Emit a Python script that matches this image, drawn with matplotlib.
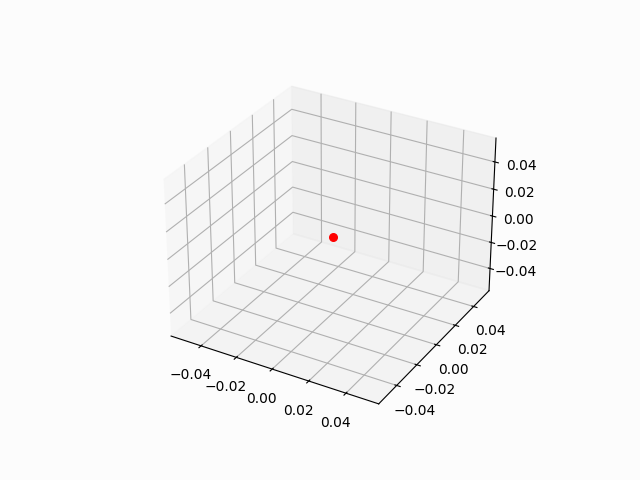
import matplotlib
matplotlib.use("Agg")
import matplotlib.pyplot as plt

xs = [0.0]
ys = [0.0]
zs = [0.0]

fig = plt.figure(figsize=(6.4, 4.8), dpi=100, facecolor="#fcfcfc")
ax = fig.add_subplot(111, projection="3d")
ax.set_facecolor("#fcfcfc")
ax.scatter(xs, ys, zs, c="red", s=30, depthshade=False)
fig.savefig("out.png", facecolor=fig.get_facecolor())
